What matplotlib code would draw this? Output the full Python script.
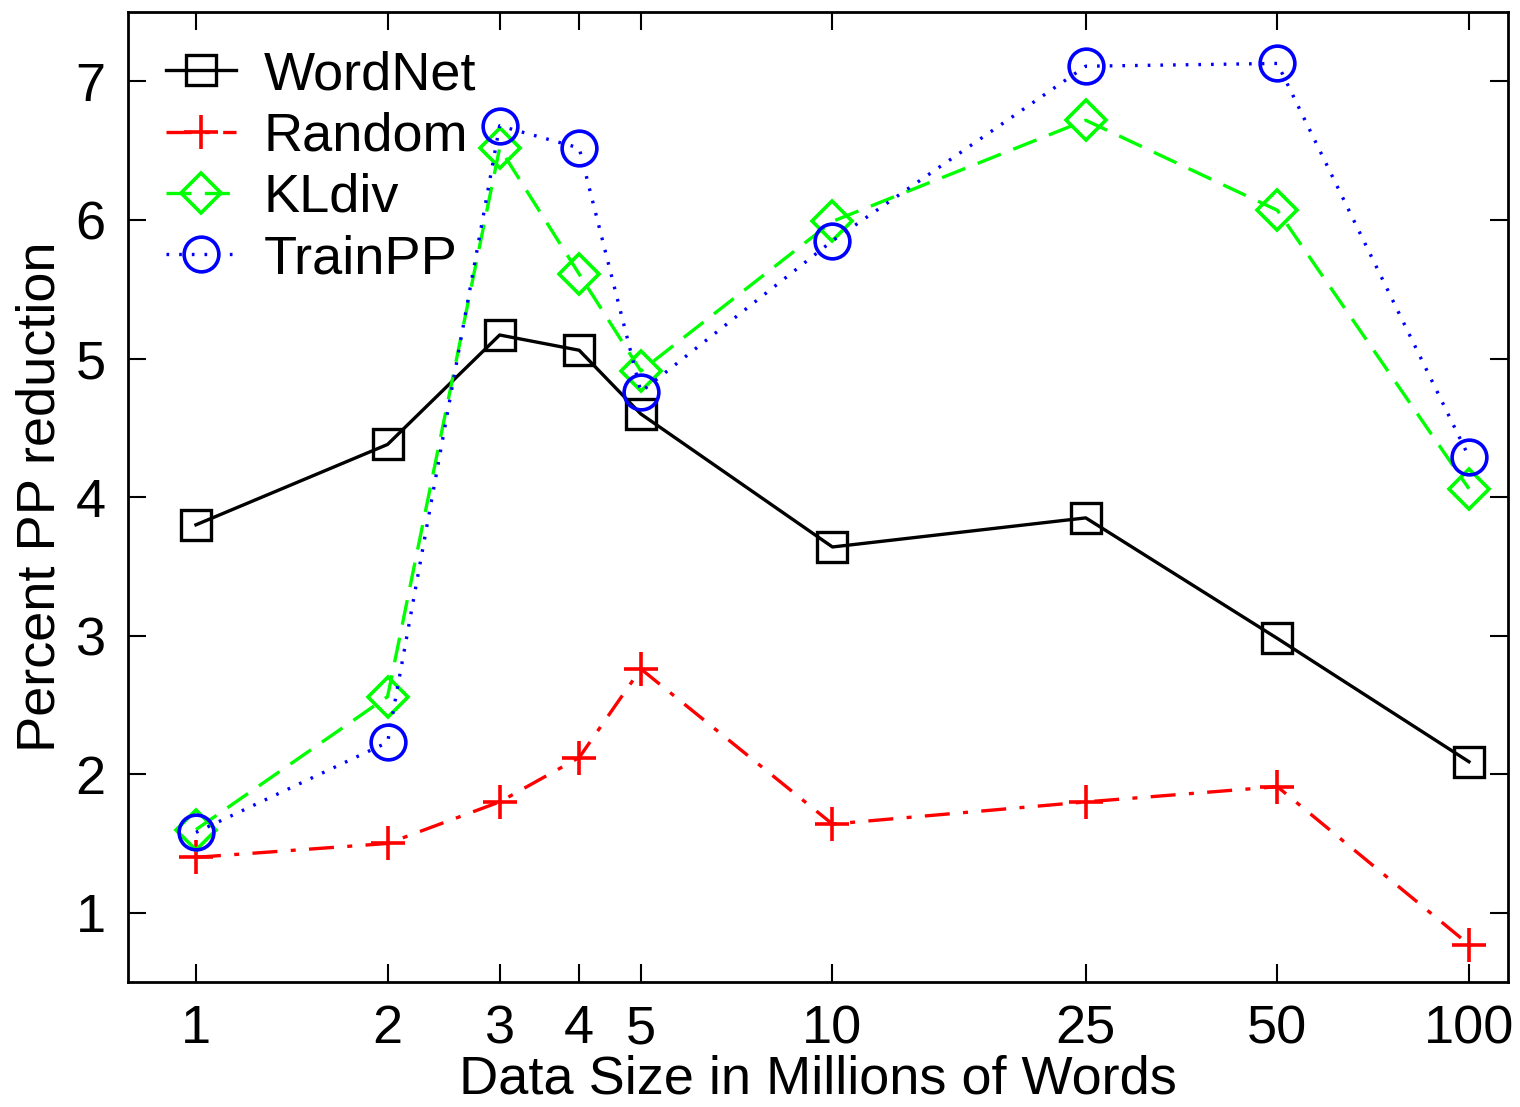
import matplotlib
matplotlib.use('Agg')
import matplotlib.pyplot as plt
import numpy as np

plt.rcParams['font.family'] = ['Liberation Sans', 'DejaVu Sans']

sizes = [1, 2, 3, 4, 5, 10, 25, 50, 100]
tick_labels = ['1', '2', '3', '4', '5', '10', '25', '50', '100']
wordnet = [3.80, 4.38, 5.17, 5.06, 4.60, 3.64, 3.85, 2.98, 2.09]
random_sel = [1.40, 1.50, 1.80, 2.12, 2.76, 1.64, 1.80, 1.91, 0.77]
kldiv = [1.60, 2.56, 6.52, 5.61, 4.91, 5.99, 6.72, 6.07, 4.06]
trainpp = [1.58, 2.23, 6.68, 6.52, 4.76, 5.85, 7.11, 7.13, 4.29]

fig = plt.figure(figsize=(15.2, 11.07), dpi=100)
ax = fig.add_axes([0.0842, 0.1129, 0.9078, 0.8761])

lw = 2.4
ax.plot(sizes, wordnet, 'k-s', lw=lw, ms=21, mfc='none', mew=2.4, label='WordNet')
ax.plot(sizes, random_sel, color='#ff0000', ls='-.', marker='+', lw=lw, ms=25, mew=2.6,
        label='Random', dashes=(7.5, 4, 1.5, 4))
ax.plot(sizes, kldiv, color='#00ff00', ls='--', marker='D', lw=lw, ms=20, mfc='none', mew=2.6,
        label='KLdiv', dashes=(7.5, 4))
ax.plot(sizes, trainpp, color='#0000ff', ls=':', marker='o', lw=lw, ms=25, mfc='none', mew=2.6,
        label='TrainPP', dashes=(0.8, 3))

ax.set_xscale('log')
ax.set_xlim(0.782, 115.1)
ax.set_ylim(0.5, 7.5)
ax.set_xticks(sizes)
ax.set_xticklabels(tick_labels)
ax.xaxis.set_minor_locator(matplotlib.ticker.NullLocator())
ax.set_yticks([1, 2, 3, 4, 5, 6, 7])
ax.tick_params(direction='in', length=13, width=1.5, labelsize=39, top=True, right=True, pad=16)
for s in ax.spines.values():
    s.set_linewidth(2)

ax.set_xlabel('Data Size in Millions of Words', fontsize=39, labelpad=0)
ax.set_ylabel('Percent PP reduction', fontsize=39, labelpad=7)

ax.legend(loc='upper left', frameon=False, fontsize=39, handlelength=1.3,
          handletextpad=0.5, labelspacing=0.21, borderaxespad=0.4, borderpad=0.3)

fig.savefig('out.png', dpi=100)
